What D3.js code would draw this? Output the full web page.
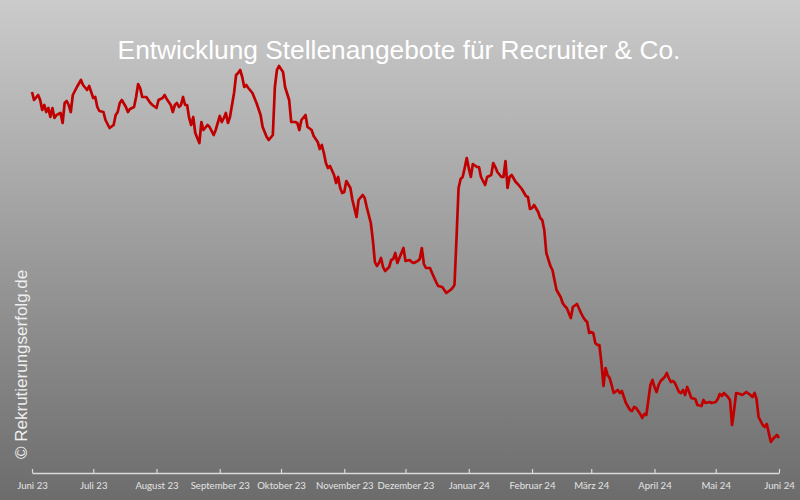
<!DOCTYPE html>
<html><head><meta charset="utf-8">
<script src="https://cdn.jsdelivr.net/npm/d3@7"></script>
<style>html,body{margin:0;padding:0;background:#999;}svg{display:block;}</style>
</head><body>
<svg id="c" width="800" height="500"></svg>
<script>
const chartTitle = "Entwicklung Stellenangebote für Recruiter & Co.";
const watermark = "© Rekrutierungserfolg.de";
const startDate = "2023-06-01";
const endDate = "2024-06-01";
const tickMonths = ["2023-06-01","2023-07-01","2023-08-01","2023-09-01","2023-10-01","2023-11-01","2023-12-01","2024-01-01","2024-02-01","2024-03-01","2024-04-01","2024-05-01","2024-06-01"];
const tickLabels = ["Juni 23","Juli 23","August 23","September 23","Oktober 23","November 23","Dezember 23","Januar 24","Februar 24","März 24","April 24","Mai 24","Juni 24"];
// [days since startDate, index value (arbitrary units)]
const series = [
[0,381],[1,373],[3,378],[4,373],[5,363],[6,368],[7,361],[8,365],[9,356],[10,365],[11,355],[12,358],[14,360],[15,350],[16,370],[17,372],[18,368],[19,361],[20,378],[22,386],[24,393],[25,388],[27,383],[28,387],[29,381],[30,375],[31,376],[32,366],[33,362],[35,361],[36,353],[38,345],[40,348],[41,358],[42,361],[43,370],[44,373],[46,366],[47,361],[48,364],[50,366],[51,376],[52,389],[53,385],[54,376],[56,376],[57,373],[58,370],[59,368],[61,365],[62,373],[64,375],[65,378],[66,374],[68,368],[69,361],[70,368],[71,370],[72,366],[73,368],[74,376],[75,368],[76,368],[77,355],[78,348],[79,356],[80,340],[82,330],[83,351],[84,343],[86,348],[87,346],[89,338],[90,343],[92,357],[93,351],[94,355],[95,360],[96,350],[97,356],[99,380],[100,398],[101,400],[102,403],[103,396],[104,386],[105,388],[106,385],[108,380],[110,370],[112,358],[113,346],[115,336],[116,333],
[118,338],[119,386],[120,403],[121,407],[123,401],[124,386],[126,373],[127,351],[129,351],[130,350],[131,343],[132,353],[134,358],[135,346],[137,343],[138,337],[140,331],[141,324],[142,328],[143,320],[144,310],[145,305],[146,307],[148,298],[149,290],[150,296],[151,285],[152,280],[153,281],[154,292],[156,285],[157,273],[159,256],[160,273],[162,278],[163,275],[164,266],[166,250],[167,233],[168,211],[169,207],[170,210],[171,215],[172,206],[173,202],[175,206],[176,213],[177,214],[178,220],[179,210],[180,215],[182,225],[183,212],[185,213],[186,211],[187,210],[189,212],[190,214],[191,225],[192,209],[193,205],[195,205],
[196,200],[198,191],[199,187],[201,186],[202,183],[203,180],[205,183],[206,185],[207,188],[208,235],[209,285],[210,294],[211,296],[212,305],[213,315],[214,305],[215,296],[216,309],[218,306],[219,306],[220,296],[222,288],[223,296],[225,298],[226,310],[227,306],[228,301],[230,296],[231,296],[232,312],[233,285],[234,296],[235,298],[237,291],[238,289],[240,284],[242,277],[243,276],[244,264],[245,265],[246,268],[248,261],[249,255],[250,253],[251,243],[252,220],[254,207],[255,203],[256,193],[257,183],[259,176],
[260,170],[261,167],[262,165],[264,155],[265,166],[267,169],[269,160],[270,156],[271,153],[272,151],[273,140],[274,141],[275,140],[276,130],[277,128],[278,128],[279,110],[280,87],[281,105],[282,98],[283,95],[284,88],[285,80],[287,83],[288,80],[289,82],[290,76],[291,70],[293,63],[294,62],
[295,66],[296,65],[298,59],[299,55],[300,59],[301,58],[302,73],[303,88],[304,93],[305,86],[306,81],[307,88],[308,92],[310,96],[311,100],[312,95],[313,91],[314,92],[315,90],[317,81],[318,80],[319,83],[320,78],[321,86],[322,81],[323,75],[325,74],[326,68],[328,67],[329,73],[330,70],[332,71],[333,70],[335,71],[336,74],[337,79],[338,77],[339,80],[341,76],[342,73],[343,48],[344,63],[345,80],[347,79],[348,78],[350,81],[352,78],[353,76],[354,80],[355,74],[356,56],[358,48],[359,46],[360,49],[361,40],[362,31],[363,34],[364,36],[365,38],[366,35]
];

const W = 800, H = 500;
const svg = d3.select("#c");
const parse = d3.utcParse("%Y-%m-%d");
const t0 = parse(startDate), t1 = parse(endDate);
const data = series.map(([d, v]) => ({date: d3.utcDay.offset(t0, d), value: v}));

const defs = svg.append("defs");
const grad = defs.append("linearGradient").attr("id","bg").attr("x1",0).attr("y1",0).attr("x2",0).attr("y2",1);
grad.append("stop").attr("offset","0%").attr("stop-color","#cbcbcb");
grad.append("stop").attr("offset","100%").attr("stop-color","#6c6c6c");
svg.append("rect").attr("width",W).attr("height",H).attr("fill","url(#bg)");

const x = d3.scaleUtc().domain([t0, t1]).range([32, 779]);
const y = d3.scaleLinear().domain([0, 413]).range([473, 60]);

const tickDates = tickMonths.map(parse);
const axis = d3.axisBottom(x).tickValues(tickDates).tickSizeInner(-4).tickSizeOuter(0)
  .tickPadding(9).tickFormat((d, i) => tickLabels[i]);
const gx = svg.append("g").attr("transform","translate(0,473)").call(axis);
gx.select(".domain").attr("stroke","#d9d9d9").attr("stroke-width",1.5);
gx.selectAll(".tick line").attr("stroke","#d9d9d9").attr("stroke-width",1.2);
gx.selectAll(".tick text").attr("fill","#e4e4e4").attr("font-family","Lato, 'Open Sans', sans-serif").attr("font-size","9.6px");

const line = d3.line().x(d => x(d.date)).y(d => y(d.value)).curve(d3.curveLinear);
svg.append("path").datum(data).attr("d", line).attr("fill","none")
  .attr("stroke","#c00000").attr("stroke-width",2.7).attr("stroke-linejoin","round");

svg.append("text").attr("x",399).attr("y",59).attr("text-anchor","middle")
  .attr("fill","#ffffff").attr("font-family","'Liberation Sans', Arial, sans-serif").attr("font-size","26.3px")
  .text(chartTitle);

svg.append("text").attr("transform","translate(27,459) rotate(-90)")
  .attr("fill","#eeeeee").attr("font-family","'Liberation Sans', Arial, sans-serif").attr("font-size","17px")
  .text(watermark);
</script>
</body></html>
